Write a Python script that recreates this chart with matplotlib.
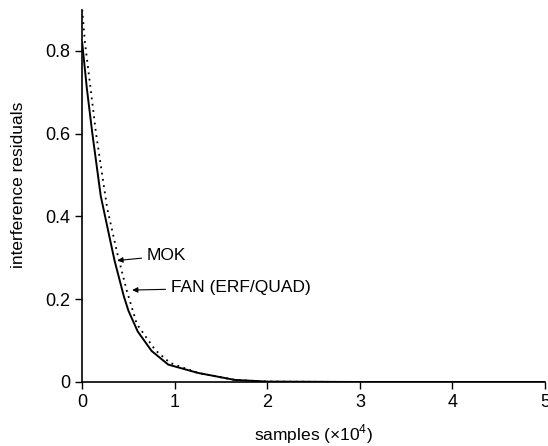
import matplotlib
matplotlib.use("Agg")
import matplotlib.pyplot as plt

plt.rcParams["font.family"] = ["Liberation Sans", "DejaVu Sans"]
plt.rcParams["mathtext.fontset"] = "custom"
plt.rcParams["mathtext.rm"] = "Liberation Sans"

# samples (x1e4) and interference residuals
mok_x = [0, 0.05, 0.11, 0.2, 0.3, 0.35, 0.4, 0.45, 0.5, 0.6, 0.75, 0.93, 1.25, 1.65, 2.0, 3.0, 4.0, 5.0]
mok_y = [0.82, 0.71, 0.6, 0.45, 0.345, 0.293, 0.25, 0.207, 0.172, 0.122, 0.075, 0.042, 0.022, 0.005, 0.001, 0.0, 0.0, 0.0]

fan_x = [0, 0.03, 0.15, 0.27, 0.38, 0.48, 0.59, 0.79, 0.95, 1.25, 1.65, 2.0, 3.0, 4.0, 5.0]
fan_y = [0.9, 0.82, 0.6, 0.42, 0.31, 0.222, 0.14, 0.077, 0.046, 0.022, 0.005, 0.001, 0.0, 0.0, 0.0]

xticks = [0, 1, 2, 3, 4, 5]
yticks = [0, 0.2, 0.4, 0.6, 0.8]
ytick_labels = ["0", "0.2", "0.4", "0.6", "0.8"]

fig = plt.figure(figsize=(5.48, 4.46), dpi=100)
ax = fig.add_axes([0.15, 0.1435, 0.8445, 0.835])

ax.plot(mok_x, mok_y, "k-", lw=1.4)
ax.plot(fan_x, fan_y, color="k", ls=(0, (1, 2.5)), lw=1.3)

ax.set_xlim(0, 5)
ax.set_ylim(0, 0.9)
ax.set_xticks(xticks)
ax.set_yticks(yticks)
ax.set_yticklabels(ytick_labels)
ax.tick_params(labelsize=13, length=5, width=1, direction="out")

for side in ("top", "right"):
    ax.spines[side].set_visible(False)
for side in ("left", "bottom"):
    ax.spines[side].set_linewidth(1.2)

ax.set_xlabel(r"samples (×10$^{\mathrm{4}}$)", fontsize=12.5, labelpad=8)
ax.set_ylabel("interference residuals", fontsize=12.5, labelpad=10)
ax.yaxis.set_label_coords(-0.122, 0.53)

arrow = dict(arrowstyle="-|>", color="k", lw=0.8, mutation_scale=8)
ax.annotate("MOK", xy=(0.35, 0.293), xytext=(0.7, 0.305),
            fontsize=12.5, va="center", arrowprops=arrow)
ax.annotate("FAN (ERF/QUAD)", xy=(0.51, 0.222), xytext=(0.96, 0.228),
            fontsize=12.5, va="center", arrowprops=arrow)

fig.savefig("out.png", dpi=100)
